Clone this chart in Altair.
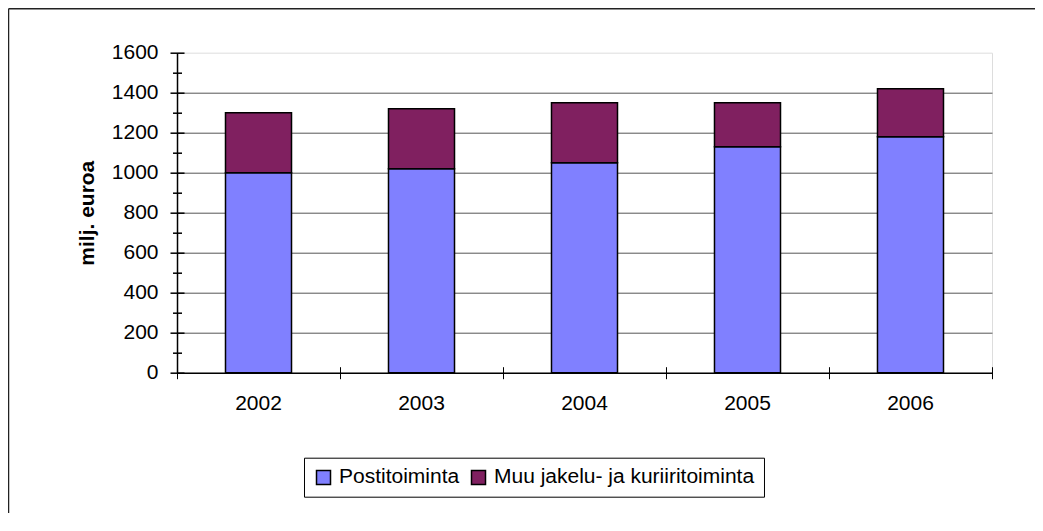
import altair as alt
import pandas as pd

years = ["2002", "2003", "2004", "2005", "2006"]
posti = [1000, 1020, 1050, 1130, 1180]
muu = [300, 300, 300, 220, 240]
series = ["Postitoiminta", "Muu jakelu- ja kuriiritoiminta"]
colors = ["#8080FF", "#802060"]
y_major = [0, 200, 400, 600, 800, 1000, 1200, 1400, 1600]
y_minor = [100, 300, 500, 700, 900, 1100, 1300, 1500]
y_grid = [200, 400, 600, 800, 1000, 1200, 1400]

rows = []
for i, yr in enumerate(years):
    rows.append({"year": yr, "series": series[0], "order": 0, "value": posti[i]})
    rows.append({"year": yr, "series": series[1], "order": 1, "value": muu[i]})
df = pd.DataFrame(rows)

FONT = "Liberation Sans"
FS = 21

xscale = alt.Scale(paddingInner=0, paddingOuter=0)
yscale = alt.Scale(domain=[0, 1600], nice=False)

base = alt.Chart(df)

bars = base.mark_bar(
    width=alt.RelativeBandSize(0.405), stroke="black", strokeWidth=1.5
).encode(
    x=alt.X("year:N", scale=xscale, sort=years,
            axis=alt.Axis(title=None, orient="bottom", labelAngle=0, ticks=False, tickSize=0,
                          labelPadding=20, domainColor="black", domainWidth=1.5,
                          grid=False, zindex=2, labelFontSize=FS, labelFont=FONT,
                          labelColor="black")),
    y=alt.Y("value:Q", stack="zero", scale=yscale,
            axis=alt.Axis(title="milj. euroa", orient="left", values=y_major, format="d",
                          ticks=False, tickSize=0,
                          labelPadding=19, domainColor="black", domainWidth=1.5,
                          grid=False, zindex=2, labelFontSize=FS, labelFont=FONT,
                          labelColor="black", titleFont=FONT, titleFontSize=FS,
                          titleFontWeight="bold", titleColor="black",
                          titleX=-80, titleY=160, titleAngle=270,
                          titleBaseline="bottom", titleAlign="center")),
    color=alt.Color("series:N", scale=alt.Scale(domain=series, range=colors),
                    legend=alt.Legend(title=None, orient="none", legendX=127,
                                      legendY=405, direction="horizontal",
                                      strokeColor="black", padding=9,
                                      symbolType="square", symbolSize=196,
                                      symbolStrokeColor="black", symbolStrokeWidth=1.5,
                                      labelFontSize=FS, labelFont=FONT,
                                      labelColor="black", labelOffset=5,
                                      labelLimit=500, columnPadding=8)),
    order=alt.Order("order:Q"),
)

major = base.mark_bar(opacity=0).encode(
    x=alt.X("year:N", scale=xscale, sort=years,
            axis=alt.Axis(title=None, orient="bottom", labels=False, domain=False,
                          grid=False, tickBand="extent", tickSize=12, offset=-6,
                          tickColor="black", tickWidth=1, zindex=2)),
    y=alt.Y("value:Q", stack="zero", scale=yscale,
            axis=alt.Axis(title=None, orient="left", labels=False, domain=False,
                          grid=False, values=y_major, tickSize=14, offset=-7,
                          tickColor="black", tickWidth=1.5, zindex=2)),
)

minor = base.mark_bar(opacity=0).encode(
    x=alt.X("year:N", scale=xscale, sort=years, axis=None),
    y=alt.Y("value:Q", stack="zero", scale=yscale,
            axis=alt.Axis(title=None, orient="left", labels=False, domain=False,
                          grid=False, values=y_minor, tickSize=9, offset=-4.5,
                          tickColor="black", tickWidth=1.5, zindex=2)),
)

grid = base.mark_bar(opacity=0).encode(
    x=alt.X("year:N", scale=xscale, sort=years, axis=None),
    y=alt.Y("value:Q", stack="zero", scale=yscale,
            axis=alt.Axis(title=None, orient="left", labels=False, domain=False,
                          ticks=False, grid=True, values=y_grid, gridColor="#555555",
                          gridWidth=1, zindex=0)),
)

frame_df = pd.DataFrame({"a": [0]})
frame_top = alt.Chart(frame_df).mark_rule(
    stroke="#222222", strokeWidth=1.5, clip=False
).encode(x=alt.value(-168.5), x2=alt.value(2000), y=alt.value(-44))
frame_left = alt.Chart(frame_df).mark_rule(
    stroke="#222222", strokeWidth=1.5, clip=False
).encode(x=alt.value(-168.5), y=alt.value(-44), y2=alt.value(2000))

chart = alt.layer(grid, bars, major, minor, frame_top, frame_left).resolve_scale(
    x="shared", y="shared", color="independent"
).resolve_axis(x="independent", y="independent").properties(
    width=815, height=320,
    autosize=alt.AutoSizeParams(type="none"),
    padding={"left": 169, "top": 44.7, "right": 43, "bottom": 140},
).configure_view(
    stroke="#888888", strokeWidth=1.5
).configure(background="white")

chart.save("out.html", embed_options={"renderer": "svg", "actions": False})
